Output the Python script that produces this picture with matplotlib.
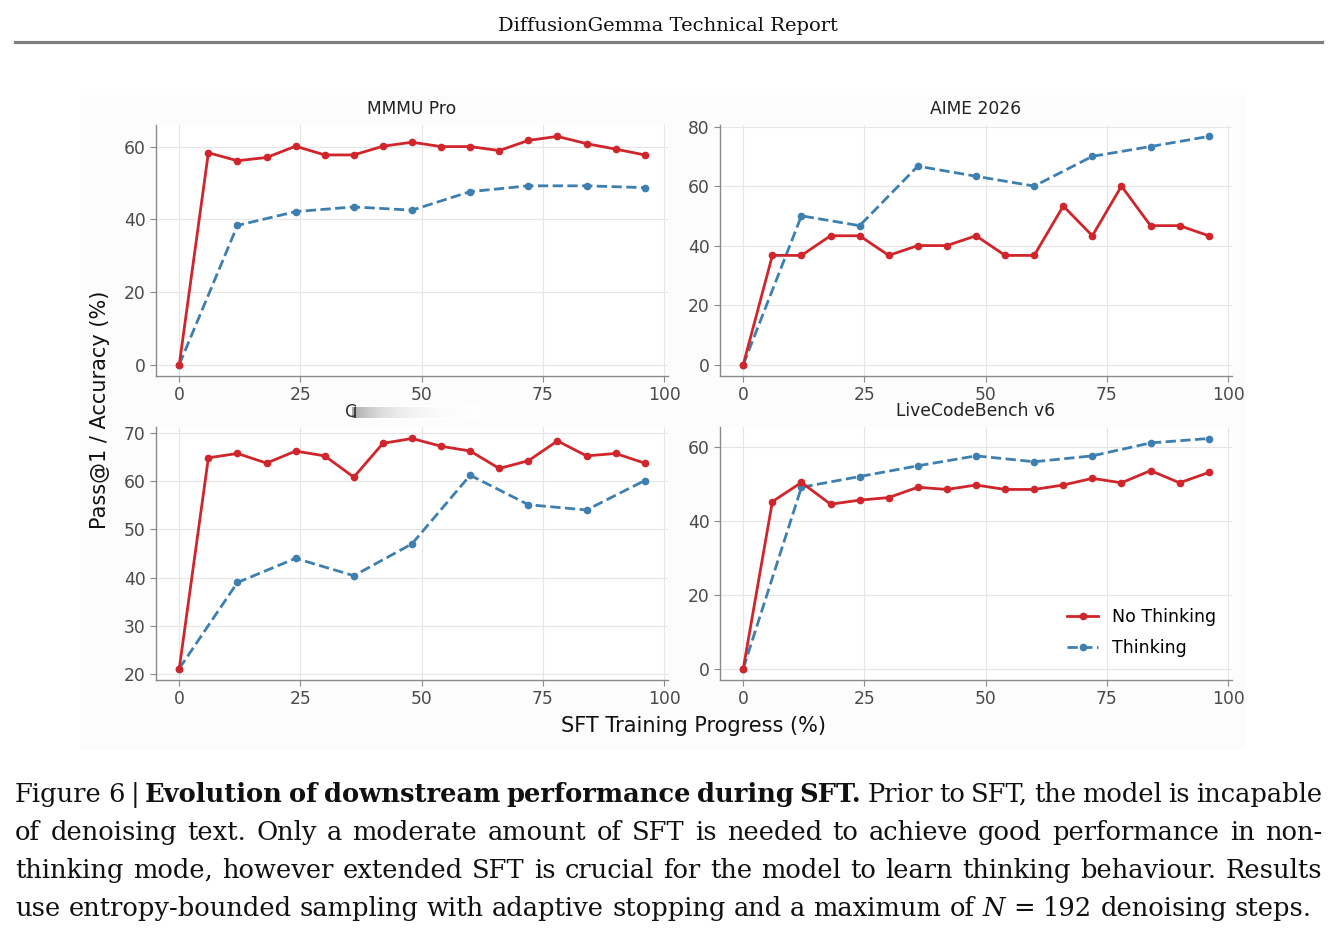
import numpy as np
import matplotlib
matplotlib.use("Agg")
import matplotlib.pyplot as plt
from matplotlib.patches import Rectangle

# ------------------------------------------------------------------
#  Data
# ------------------------------------------------------------------
X_NO_THINK = [0, 6, 12, 18, 24, 30, 36, 42, 48, 54, 60, 66, 72, 78, 84, 90, 96]
X_THINK = [0, 12, 24, 36, 48, 60, 72, 84, 96]

PANEL_TITLES = ["MMMU Pro", "AIME 2026", "", "LiveCodeBench v6"]

MMMU_NO_THINK = [0.0, 58.3, 56.1, 57.0, 60.1, 57.7, 57.7, 60.1, 61.2,
                 60.0, 60.0, 58.9, 61.7, 62.8, 60.8, 59.3, 57.7]
MMMU_THINK = [0.0, 38.3, 42.1, 43.4, 42.5, 47.6, 49.2, 49.2, 48.7]

AIME_NO_THINK = [0.0, 36.7, 36.7, 43.3, 43.3, 36.7, 40.0, 40.0, 43.3,
                 36.7, 36.7, 53.3, 43.3, 60.0, 46.7, 46.7, 43.3]
AIME_THINK = [0.0, 50.0, 46.7, 66.7, 63.3, 60.0, 70.0, 73.3, 76.7]

HIDDEN_NO_THINK = [21.2, 64.8, 65.7, 63.7, 66.2, 65.2, 60.8, 67.8, 68.8,
                   67.2, 66.2, 62.6, 64.2, 68.3, 65.2, 65.7, 63.7]
HIDDEN_THINK = [21.2, 39.0, 44.0, 40.4, 47.0, 61.2, 55.1, 54.0, 60.1]

LCB_NO_THINK = [0.0, 45.2, 50.4, 44.5, 45.6, 46.3, 49.1, 48.5, 49.7,
                48.5, 48.5, 49.7, 51.5, 50.3, 53.6, 50.3, 53.1]
LCB_THINK = [0.0, 49.1, 52.0, 54.9, 57.6, 56.0, 57.6, 61.1, 62.3]

PANELS = [
    (MMMU_NO_THINK, MMMU_THINK, [0, 20, 40, 60]),
    (AIME_NO_THINK, AIME_THINK, [0, 20, 40, 60, 80]),
    (HIDDEN_NO_THINK, HIDDEN_THINK, [20, 30, 40, 50, 60, 70]),
    (LCB_NO_THINK, LCB_THINK, [0, 20, 40, 60]),
]

CAPTION_LINES = [
    [("Figure 6 |", "normal", "normal"),
     ("Evolution of downstream performance during SFT.", "bold", "normal"),
     ("Prior to SFT, the model is incapable", "normal", "normal")],
    [("of denoising text. Only a moderate amount of SFT is needed to "
      "achieve good performance in non-", "normal", "normal")],
    [("thinking mode, however extended SFT is crucial for the model to "
      "learn thinking behaviour. Results", "normal", "normal")],
    [("use entropy-bounded sampling with adaptive stopping and a maximum of",
      "normal", "normal"),
     ("N", "normal", "italic"),
     ("= 192 denoising steps.", "normal", "normal")],
]
CAPTION_RIGHT = [1322, 1322, 1322, 1312]

# ------------------------------------------------------------------
#  Style
# ------------------------------------------------------------------
W, H = 1342, 931
RED = "#d0252b"
BLUE = "#3d7fb0"
TICK_COLOR = "#4a4a4a"
SPINE_COLOR = "#8a8a8a"
GRID_COLOR = "#e6e6e6"
SERIF = "DejaVu Serif"

plt.rcParams["font.family"] = ["DejaVu Sans"]

fig = plt.figure(figsize=(W / 100, H / 100), dpi=100)
fig.patch.set_facecolor("white")


def px(x, y):
    """Pixel (from top-left) to figure fraction."""
    return x / W, 1 - y / H


# faint background of the embedded chart image
fig.patches.append(Rectangle(px(80, 750), 1165 / W, 655 / H,
                             transform=fig.transFigure, facecolor="#fcfcfc",
                             edgecolor="none", zorder=-10))

# page header
fig.text(*px(668, 31), "DiffusionGemma Technical Report", family=SERIF,
         fontsize=14, ha="center", va="baseline", color="#111111")
fig.add_artist(plt.Line2D([15 / W, 1322 / W], [1 - 42 / H, 1 - 42 / H],
                          transform=fig.transFigure, color="#808080", lw=2.3))

# ------------------------------------------------------------------
#  Panels
# ------------------------------------------------------------------
boxes = [(156, 125, 668, 376), (720, 125, 1232, 376),
         (156, 427, 668, 680), (720, 427, 1232, 680)]

axes = []
for (x0, y0, x1, y1), title, (red_vals, blue_vals, yticks) in zip(
        boxes, PANEL_TITLES, PANELS):
    ax = fig.add_axes([x0 / W, 1 - y1 / H, (x1 - x0) / W, (y1 - y0) / H])
    ax.set_facecolor("white")
    ax.plot(X_NO_THINK, red_vals, color=RED, lw=2, marker="o",
            markersize=4.5, label="No Thinking", zorder=3)
    ax.plot(X_THINK, blue_vals, color=BLUE, lw=2, ls="--", marker="o",
            markersize=4.5, label="Thinking", zorder=2)
    ax.set_xticks([0, 25, 50, 75, 100])
    ax.set_yticks(yticks)
    ax.set_xlim(-4.8, 100.8)
    lo, hi = min(min(red_vals), min(blue_vals)), max(max(red_vals), max(blue_vals))
    pad = (hi - lo) * 0.05
    ax.set_ylim(lo - pad, hi + pad)
    ax.grid(True, color=GRID_COLOR, lw=0.8)
    ax.set_axisbelow(True)
    for side in ["top", "right"]:
        ax.spines[side].set_visible(False)
    for side in ["left", "bottom"]:
        ax.spines[side].set_color(SPINE_COLOR)
        ax.spines[side].set_linewidth(1.0)
    ax.tick_params(labelsize=12.3, colors=TICK_COLOR, color=SPINE_COLOR,
                   length=4, width=0.8)
    if title:
        ax.set_title(title, fontsize=12.3, color="#222222", pad=8)
    axes.append(ax)

# obscured title of the lower-left panel
fig.text(*px(345, 417), "C", fontsize=12.3, color="#333333",
         ha="left", va="baseline")
grad_ax = fig.add_axes([352 / W, 1 - 419 / H, 128 / W, 13 / H])
grad = 1 - 0.35 * np.exp(-np.linspace(0, 4, 128))
grad = np.tile(grad, (13, 1))
grad[:, 2:4] = 0.25
grad[0, :] = grad[-1, :] = 1.0
grad_ax.imshow(grad, cmap="gray", vmin=0, vmax=1, aspect="auto",
               interpolation="bilinear")
grad_ax.axis("off")

axes[3].legend(loc="lower right", bbox_to_anchor=(1.0, 0.03), frameon=False,
               fontsize=12.5, handlelength=1.8, labelspacing=0.75)

fig.text(*px(100, 410), "Pass@1 / Accuracy (%)", rotation=90, fontsize=15,
         ha="center", va="center", color="#111111")
fig.text(*px(694, 726), "SFT Training Progress (%)", fontsize=15,
         ha="center", va="center", color="#111111")

# ------------------------------------------------------------------
#  Caption (justified, word by word)
# ------------------------------------------------------------------
renderer = fig.canvas.get_renderer()
baselines = [802, 840, 878, 916]
for line, base, right in zip(CAPTION_LINES, baselines, CAPTION_RIGHT):
    words = []
    for text, weight, style in line:
        for w in text.split(" "):
            t = fig.text(0, 0, w, family=SERIF, fontsize=18.5,
                         weight=weight, style=style, va="baseline",
                         ha="left", color="#111111")
            words.append(t)
    widths = [t.get_window_extent(renderer).width for t in words]
    gap = (right - 15 - sum(widths)) / (len(words) - 1)
    x = 15
    for t, w in zip(words, widths):
        t.set_position(px(x, base))
        x += w + gap

fig.savefig("out.png", dpi=100)
